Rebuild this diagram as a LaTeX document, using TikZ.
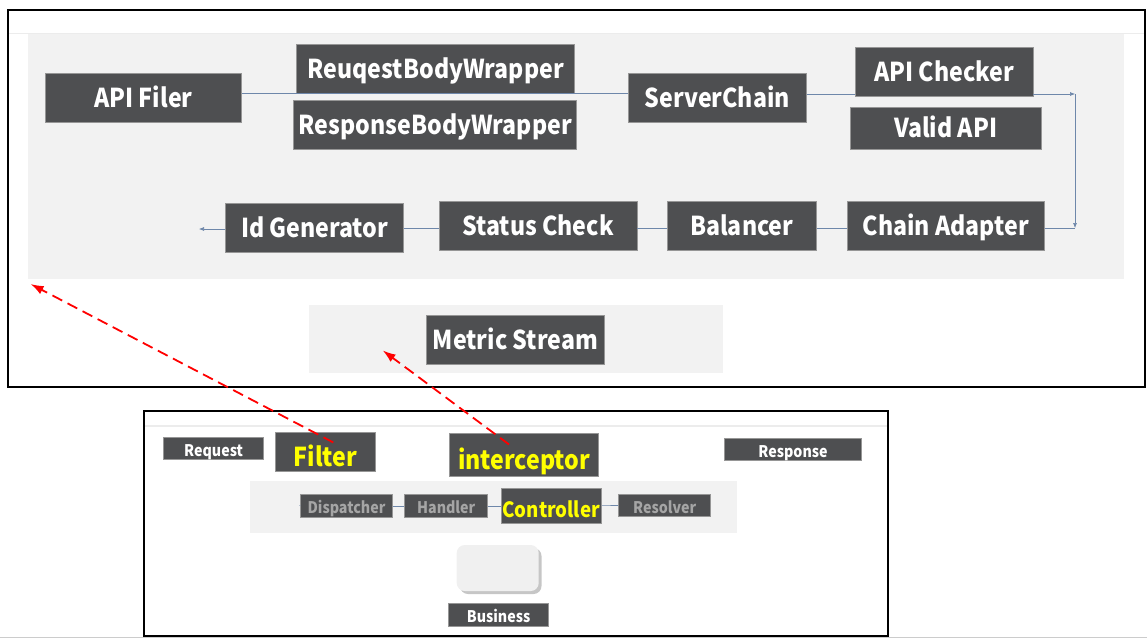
\documentclass[tikz,border=0pt]{standalone}
\usepackage{fontspec}
\setmainfont{Noto Sans CJK SC}[FakeStretch=0.89]
\usetikzlibrary{arrows.meta, positioning}
\definecolor{boxgray}{RGB}{78,79,81}
\definecolor{edgegray}{RGB}{150,150,150}
\definecolor{panelgray}{RGB}{242,242,242}
\definecolor{wireblue}{RGB}{110,135,170}
\definecolor{hilite}{RGB}{255,255,0}
\definecolor{dimtext}{RGB}{165,165,165}
\tikzstyle{block} = [draw=edgegray, fill=boxgray, rectangle, text=white, inner sep=0pt, line width=0.8pt]
\tikzstyle{bigblock} = [block, font=\fontsize{26}{26}\selectfont\bfseries, minimum height=49pt, text height=19pt, text depth=0pt]
\tikzstyle{smallblock} = [block, font=\fontsize{16}{16}\selectfont\bfseries, minimum height=22.5pt, text height=15.5pt, text depth=0pt]
\tikzstyle{hiblock} = [block, text=hilite, text depth=0pt]
\tikzstyle{wire} = [draw=wireblue, line width=0.6pt]
\tikzstyle{jump} = [draw=red, line width=1.8pt, dash pattern=on 11pt off 6pt, -{Latex[length=13pt,width=9pt]}]

\begin{document}
\begin{tikzpicture}[x=1pt,y=-1pt,>={Latex[length=5pt,width=4pt]}]
  \useasboundingbox (0,0) rectangle (1147,638);
  % upper frame
  \fill[panelgray] (28,33) rectangle (1124,279);
  \draw[gray!15, line width=1pt] (8,33) -- (1145,33);
  \fill[panelgray] (308.5,305) rectangle (723,372.5);
  \draw[line width=2pt] (8,10) rectangle (1145,387);
  % lower frame
  \draw[gray!40, line width=1pt] (0,637) -- (1147,637);
  \draw[gray!15, line width=1.5pt] (144,426) -- (888,426);
  \fill[panelgray] (250,480.5) rectangle (736.5,533);
  \draw[line width=2pt] (144,411) rectangle (888,636);

  \node [bigblock, minimum width=196.7pt] (apifiler) at (143.5,97.8) {API Filer};
  \node [bigblock, minimum width=278pt] (reqwrap) at (435.7,69) {ReuqestBodyWrapper};
  \node [bigblock, minimum width=283pt] (respwrap) at (435.3,125) {ResponseBodyWrapper};
  \node [bigblock, minimum width=178pt] (serverchain) at (717.3,97.8) {ServerChain};
  \node [bigblock, minimum width=178pt] (apichecker) at (944,72.2) {API Checker};
  \node [bigblock, minimum width=191pt, minimum height=42.7pt] (validapi) at (945.7,128.4) {Valid API};
  \node [bigblock, minimum width=197.5pt] (chainadapter) at (945.8,225.5) {Chain Adapter};
  \node [bigblock, minimum width=149.6pt] (balancer) at (741.8,225.5) {Balancer};
  \node [bigblock, minimum width=197.6pt] (statuscheck) at (538.1,226.3) {Status Check};
  \node [bigblock, minimum width=177.6pt] (idgen) at (314.6,228.2) {Id Generator};
  \node [bigblock, minimum width=178pt] (metric) at (515.3,340.3) {Metric Stream};
  \coordinate (turntop) at (1075,94);
  \coordinate (turnbot) at (1075,228);
  \coordinate (idout) at (199,229);

  \draw [wire] (apifiler.east |- 0,93) -- (serverchain.west |- 0,93);
  \draw [wire] (serverchain.east |- 0,94) -- (apichecker.west |- 0,94);
  \draw [wire, ->] (apichecker.east |- 0,94) -- (turntop);
  \draw [wire, ->] (turntop) -- (turnbot);
  \draw [wire] (chainadapter.east |- 0,228) -- (turnbot);
  \draw [wire] (chainadapter.west |- 0,228) -- (balancer.east |- 0,228);
  \draw [wire] (balancer.west |- 0,228) -- (statuscheck.east |- 0,228);
  \draw [wire] (statuscheck.west |- 0,228.7) -- (idgen.east |- 0,228.7);
  \draw [wire, ->] (idgen.west |- idout) -- (idout);

  \node [smallblock, minimum width=100.3pt] (request) at (213.6,448.3) {Request};
  \node [hiblock, minimum width=100.2pt, minimum height=38.9pt, text height=29pt, font=\fontsize{26}{26}\selectfont\bfseries] (filter) at (325.3,452.3) {Filter};
  \node [hiblock, minimum width=149.5pt, minimum height=42.9pt, text height=28pt, font=\fontsize{26}{26}\selectfont\bfseries] (interceptor) at (524,455.3) {interceptor};
  \node [smallblock, minimum width=136.3pt] (response) at (793,449.5) {Response};
  \node [smallblock, minimum width=91.5pt, text=dimtext] (dispatcher) at (346.5,505.8) {Dispatcher};
  \node [smallblock, minimum width=82.7pt, text=dimtext] (handler) at (446.2,505.8) {Handler};
  \node [hiblock, minimum width=100.4pt, minimum height=34.5pt, text height=23.4pt, font=\fontsize{21}{21}\selectfont\bfseries] (controller) at (551.2,505.8) {Controller};
  \node [smallblock, minimum width=92.4pt, text=dimtext] (resolver) at (664.6,505.3) {Resolver};
  \coordinate (dispin) at (299.3,505.6);
  \draw [wire] (dispin) -- (dispatcher);
  \draw [wire] (dispatcher) -- (handler);
  \draw [wire] (handler) -- (controller);
  \draw [wire] (controller) -- (resolver);

  \fill [gray!45, rounded corners=8pt] (460,548) rectangle (541.5,594);
  \node [fill=gray!12, rounded corners=8pt, minimum width=82pt, minimum height=46pt, inner sep=0pt] (business) at (497.7,568) {};
  \node [smallblock, minimum width=100.3pt, minimum height=22.2pt] (businesslabel) at (498.6,614.9) {Business};

  \coordinate (filtertarget) at (30.6,284);
  \coordinate (metrictarget) at (382.7,350.4);
  \draw [jump] ([shift={(8,10)}]filter.north) -- (filtertarget);
  \draw [jump] ([shift={(-15,11)}]interceptor.north) -- (metrictarget);
\end{tikzpicture}
\end{document}
